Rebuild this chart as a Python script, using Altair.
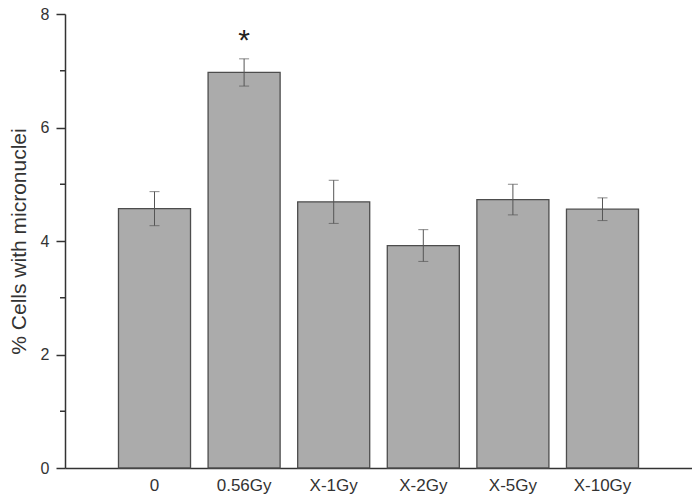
import altair as alt
import pandas as pd

categories = ["0", "0.56Gy", "X-1Gy", "X-2Gy", "X-5Gy", "X-10Gy"]
means = [4.57, 6.97, 4.69, 3.92, 4.73, 4.56]
errors = [0.30, 0.24, 0.38, 0.28, 0.27, 0.20]
minor_ticks = [1, 3, 5, 7]
major_ticks = [0, 2, 4, 6, 8]
sig_category = ["0.56Gy"]
sig_mark = ["*"]

df = pd.DataFrame({"cat": categories, "mean": means, "err": errors})
df["lo"] = df["mean"] - df["err"]
df["hi"] = df["mean"] + df["err"]
sig = df[df["cat"].isin(sig_category)].copy()
sig["label"] = sig_mark
minor_df = pd.DataFrame({"v": minor_ticks})

AX = "#333333"
FONT = "Liberation Sans"

xenc = alt.X(
    "cat:N",
    sort=categories,
    scale=alt.Scale(paddingInner=0.196, paddingOuter=0.597, align=0.5),
    axis=alt.Axis(title=None, ticks=False, labelAngle=0, labelPadding=9,
                  labelFontSize=17, labelColor=AX, labelFont=FONT,
                  domainColor=AX, domainWidth=1.5),
)
yscale = alt.Scale(domain=[0, 8], nice=False, zero=True)
yaxis = alt.Axis(title="% Cells with micronuclei", values=major_ticks, format="d", grid=False,
                 tickSize=9, tickWidth=1.5, tickColor=AX, domainColor=AX, domainWidth=1.5,
                 labelFontSize=16, labelColor=AX, labelFont=FONT, labelPadding=7,
                 titleFontSize=21, titleFontWeight="normal", titleColor=AX, titleFont=FONT,
                 titlePadding=11)

base = alt.Chart(df)
bars = base.mark_bar(fill="#ababab", stroke="#4d4d4d", strokeWidth=1.3).encode(
    x=xenc, y=alt.Y("mean:Q", scale=yscale, axis=yaxis)
)
rule = base.mark_rule(color="#555555", strokeWidth=1).encode(
    x=alt.X("cat:N", sort=categories), y="lo:Q", y2="hi:Q"
)
tlo = base.mark_tick(color="#555555", thickness=1, size=10).encode(
    x=alt.X("cat:N", sort=categories), y="lo:Q"
)
thi = base.mark_tick(color="#555555", thickness=1, size=10).encode(
    x=alt.X("cat:N", sort=categories), y="hi:Q"
)
star = alt.Chart(sig).mark_text(fontSize=30, font=FONT, baseline="alphabetic", dy=-9, color="#222222").encode(
    x=alt.X("cat:N", sort=categories), y="hi:Q", text="label:N"
)
minor = alt.Chart(minor_df).mark_rule(color=AX, strokeWidth=1.5).encode(
    y="v:Q", x=alt.value(-5), x2=alt.value(0)
)

chart = alt.layer(bars, rule, tlo, thi, star, minor).properties(
    width=627, height=454,
    autosize=alt.AutoSizeParams(type="none"),
    padding={"left": 57, "top": 6, "right": 0, "bottom": 30},
    background="white",
).configure_view(stroke="transparent", strokeWidth=0).configure_axis(grid=False)

chart.save("out.html", embed_options={"renderer": "svg", "actions": False})
